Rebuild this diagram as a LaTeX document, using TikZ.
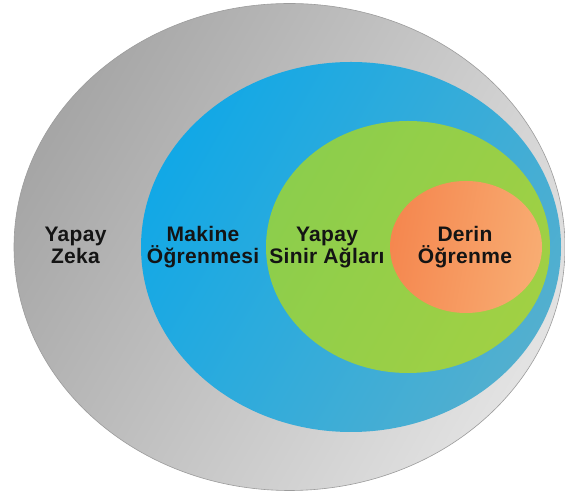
\documentclass[tikz,border=0pt]{standalone}
\usepackage{fontspec}
\setmainfont{Liberation Sans}
\usetikzlibrary{shapes.geometric}

\definecolor{aiDark}{HTML}{A6A6A6}
\definecolor{aiLight}{HTML}{E2E2E2}
\definecolor{aiEdge}{HTML}{9C9C9C}
\definecolor{mlDark}{HTML}{12A8E6}
\definecolor{mlLight}{HTML}{52AFCF}
\definecolor{annDark}{HTML}{8CCE4C}
\definecolor{annLight}{HTML}{A0D044}
\definecolor{dlDark}{HTML}{F5874F}
\definecolor{dlLight}{HTML}{F8AC72}
\definecolor{labelInk}{HTML}{141414}

\tikzset{
  zone/.style={ellipse, inner sep=0pt, draw=none},
  zonelabel/.style={font=\bfseries\fontsize{21}{21.5}\selectfont\addfontfeature{LetterSpace=1.5},
                    text=labelInk, align=center, anchor=base, inner sep=0pt}
}

\begin{document}
\begin{tikzpicture}[x=1pt, y=1pt]
  \useasboundingbox (0,0) rectangle (565,497);
  \fill[white] (0,0) rectangle (565,497);

  % nested fields, outermost first
  \node[zone, minimum width=551, minimum height=487,
        left color=aiDark, right color=aiLight, shading angle=60,
        draw=aiEdge, line width=0.6pt] (ai) at (289.5,250) {};
  \node[zone, minimum width=420, minimum height=370,
        left color=mlDark, right color=mlLight, shading angle=60] (ml) at (351,250) {};
  \node[zone, minimum width=284, minimum height=252,
        left color=annDark, right color=annLight, shading angle=60] (ann) at (408,250) {};
  \node[zone, minimum width=152, minimum height=132,
        left color=dlDark, right color=dlLight, shading angle=80] (dl) at (466,250) {};

  % labels (base anchor sits on the second line)
  \node[zonelabel] (aitext)  at (75.5,233.5) {Yapay\\Zeka};
  \node[zonelabel] (mltext)  at (203,233.5)  {Makine\\Öğrenmesi};
  \node[zonelabel] (anntext) at (327,233.5)  {Yapay\\Sinir Ağları};
  \node[zonelabel] (dltext)  at (465,233.5)  {Derin\\Öğrenme};
\end{tikzpicture}
\end{document}
